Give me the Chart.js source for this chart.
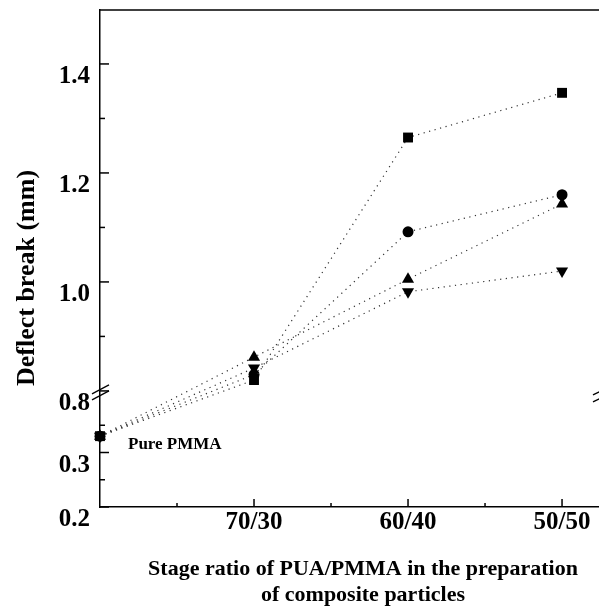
<!DOCTYPE html>
<html>
<head>
<meta charset="utf-8">
<script src="https://cdn.jsdelivr.net/npm/chart.js@4/dist/chart.umd.min.js"></script>
<style>
  html, body { margin: 0; padding: 0; background: #fff; }
</style>
</head>
<body>
<canvas id="deflectChart" width="599" height="613"></canvas>
<script>
// categories along the x axis (0 = pure PMMA)
const categories = ['Pure PMMA', '70/30', '60/40', '50/50'];
const xPositions = [0, 1, 2, 3];

// deflection at break (mm)
const squareSeries   = [0.33, 0.82, 1.265, 1.347];
const circleSeries   = [0.33, 0.83, 1.092, 1.160];
const triUpSeries    = [0.33, 0.862, 1.005, 1.143];
const triDownSeries  = [0.33, 0.842, 0.982, 1.020];

// y tick labels and the minor ticks between them
const yTickLabels = [0.2, 0.3, 0.8, 1.0, 1.2, 1.4];
const yMinorTicks = [0.25, 0.35, 0.9, 1.1, 1.3];
const xMinorTicks = [0.5, 1.5, 2.5];

const yTitle = 'Deflect break (mm)';
const xTitle = ['Stage ratio of PUA/PMMA in the preparation', 'of composite particles'];

// broken axis: values above the break are shifted down by GAP
const GAP = 0.387;
const toAxis = v => (v >= 0.6 ? v - GAP : v);
const fromAxis = d => (d > 0.38 ? d + GAP : d);

const serif = "'Liberation Serif', 'Times New Roman', serif";

function makeSet(values, style, rotation, radius) {
  return {
    data: values.map((v, i) => ({ x: xPositions[i], y: toAxis(v) })),
    borderColor: '#333',
    borderWidth: 1.2,
    borderDash: [1.2, 4.5],
    pointStyle: style,
    rotation: rotation,
    pointRadius: radius,
    pointBackgroundColor: '#000',
    pointBorderColor: '#000',
    pointBorderWidth: 0,
    fill: false,
    tension: 0,
    clip: false
  };
}

// tick marks, top frame, axis breaks, axis titles and the "Pure PMMA" note
const extras = {
  id: 'extras',
  afterDraw(chart) {
    const { ctx, chartArea: a, scales: { x, y } } = chart;
    ctx.save();
    ctx.strokeStyle = '#000';
    ctx.lineWidth = 1.5;
    const line = (x1, y1, x2, y2) => { ctx.beginPath(); ctx.moveTo(x1, y1); ctx.lineTo(x2, y2); ctx.stroke(); };

    line(a.left, a.top, a.right, a.top);

    yTickLabels.forEach(v => { const p = y.getPixelForValue(toAxis(v)); line(a.left, p, a.left + 9, p); });
    yMinorTicks.forEach(v => { const p = y.getPixelForValue(toAxis(v)); line(a.left, p, a.left + 5, p); });
    xPositions.slice(1).forEach(v => { const p = x.getPixelForValue(v); line(p, a.bottom, p, a.bottom - 8); });
    xMinorTicks.forEach(v => { const p = x.getPixelForValue(v); line(p, a.bottom, p, a.bottom - 4); });

    // break marks on both sides
    const yb = y.getPixelForValue(toAxis(0.8));
    ctx.lineWidth = 1.3;
    line(a.left - 8, yb + 3, a.left + 9, yb - 6);
    line(a.left - 8, yb + 9, a.left + 9, yb);
    line(a.right - 6, yb + 4, a.right + 4, yb - 1);
    line(a.right - 6, yb + 11, a.right + 4, yb + 6);

    ctx.fillStyle = '#000';
    ctx.textBaseline = 'middle';
    ctx.font = 'bold 17px ' + serif;
    ctx.fillText(categories[0], 128, y.getPixelForValue(0.33) + 8);

    // axis titles
    ctx.textAlign = 'center';
    ctx.textBaseline = 'alphabetic';
    ctx.font = 'bold 22px ' + serif;
    ctx.fillText(xTitle[0], 363, 575);
    ctx.fillText(xTitle[1], 363, 601);

    ctx.translate(27, 278);
    ctx.rotate(-Math.PI / 2);
    ctx.textBaseline = 'middle';
    ctx.font = 'bold 26px ' + serif;
    ctx.fillText(yTitle, 0, 0);
    ctx.restore();
  }
};

new Chart(document.getElementById('deflectChart').getContext('2d'), {
  type: 'line',
  data: {
    datasets: [
      makeSet(squareSeries, 'rect', 0, 7),
      makeSet(circleSeries, 'circle', 0, 5.5),
      makeSet(triUpSeries, 'triangle', 0, 7),
      makeSet(triDownSeries, 'triangle', 180, 7)
    ]
  },
  options: {
    responsive: false,
    animation: false,
    layout: { autoPadding: false, padding: { top: 10, right: 0, left: 0, bottom: 0 } },
    plugins: { legend: { display: false }, tooltip: { enabled: false } },
    scales: {
      x: {
        type: 'linear',
        min: 0,
        max: 3.24,
        grid: { display: false, drawTicks: false },
        border: { display: true, color: '#000', width: 1.5 },
        afterBuildTicks: s => { s.ticks = xPositions.slice(1).map(v => ({ value: v })); },
        afterFit: s => { s.height = 106; s.paddingLeft = 0; s.paddingRight = 0; },
        ticks: {
          padding: 1,
          color: '#000',
          font: { family: serif, size: 25, weight: 'bold' },
          callback: v => categories[v]
        }
      },
      y: {
        type: 'linear',
        min: 0.2,
        max: 1.112,
        grid: { display: false, drawTicks: false },
        border: { display: true, color: '#000', width: 1.5 },
        afterBuildTicks: s => { s.ticks = yTickLabels.map(v => ({ value: toAxis(v) })); },
        afterFit: s => { s.width = 100; s.paddingTop = 0; s.paddingBottom = 0; },
        ticks: {
          padding: 10,
          labelOffset: 13,
          color: '#000',
          font: { family: serif, size: 25, weight: 'bold' },
          callback: d => fromAxis(d).toFixed(1)
        }
      }
    }
  },
  plugins: [extras]
});
</script>
</body>
</html>
